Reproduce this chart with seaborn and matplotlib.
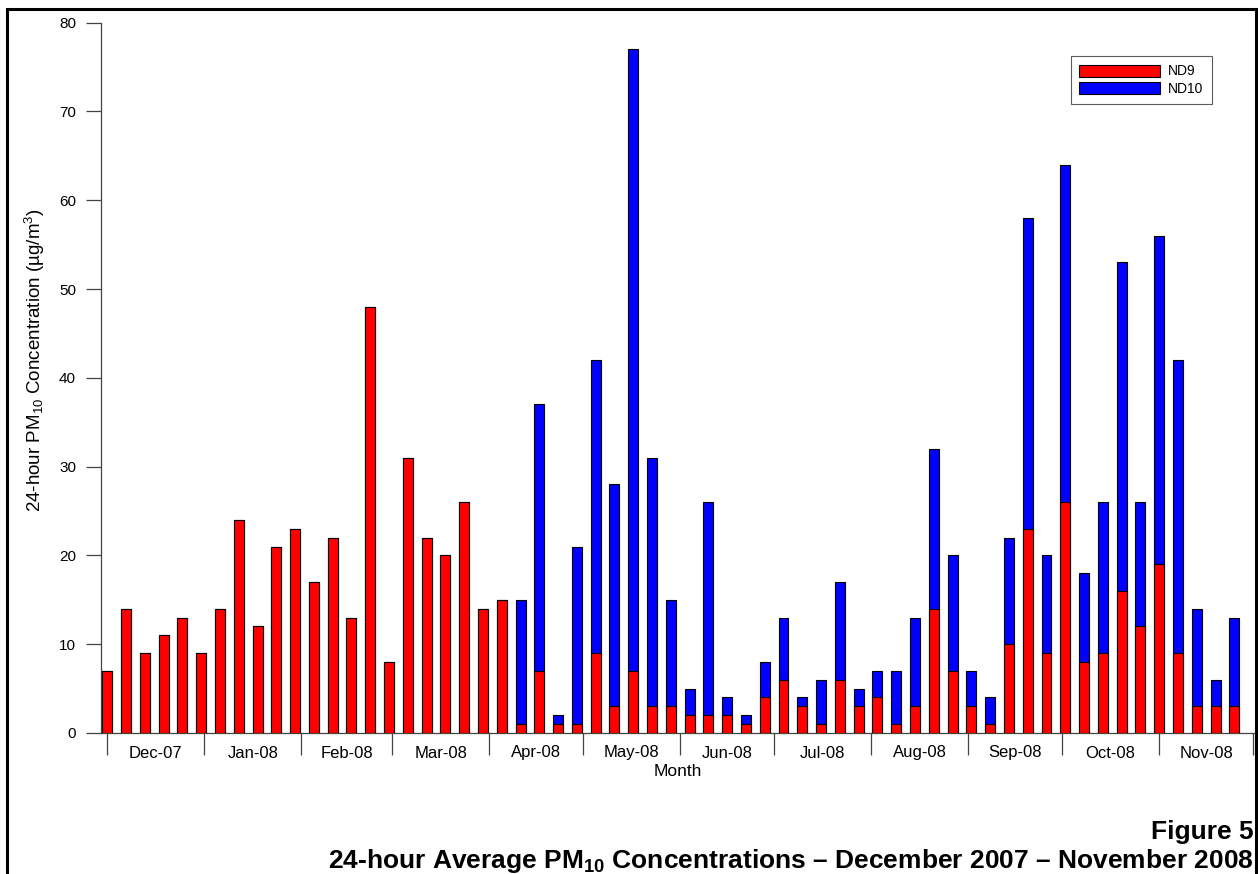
import numpy as np
import pandas as pd
import matplotlib
matplotlib.use("Agg")
import matplotlib.pyplot as plt
from matplotlib.patches import Patch, Rectangle
import seaborn as sns

# ---------------- data ----------------
start_date = "2007-12-01"
sample_step_days = 6
# ND9 (lower, red) and ND10 (upper, blue) segments, one sample every 6 days
nd9 = [7, 14, 9, 11, 13, 9,
       14, 24, 12, 21, 23,
       17, 22, 13, 48, 8,
       31, 22, 20, 26, 14,
       15,
       1, 7, 1, 1,
       9, 3, 7, 3, 3,
       2, 2, 2, 1, 4,
       6, 3, 1, 6, 3,
       4, 1, 3, 14, 7,
       3, 1, 10, 23, 9,
       26, 8, 9, 16, 12,
       19, 9, 3, 3, 3]
nd10 = [0, 0, 0, 0, 0, 0,
        0, 0, 0, 0, 0,
        0, 0, 0, 0, 0,
        0, 0, 0, 0, 0,
        0,
        14, 30, 1, 20,
        33, 25, 70, 28, 12,
        3, 24, 2, 1, 4,
        7, 1, 5, 11, 2,
        3, 6, 10, 18, 13,
        4, 3, 12, 35, 11,
        38, 10, 17, 37, 14,
        37, 33, 11, 3, 10]
month_labels = ["Dec-07", "Jan-08", "Feb-08", "Mar-08", "Apr-08", "May-08",
                "Jun-08", "Jul-08", "Aug-08", "Sep-08", "Oct-08", "Nov-08"]
y_ticks = [0, 10, 20, 30, 40, 50, 60, 70, 80]

# ---------------- frame ----------------
n = len(nd9)
t0 = pd.Timestamp(start_date)
day = np.arange(n) * sample_step_days
df = pd.DataFrame({
    "day": day,
    "ND9": nd9,
    "total": np.array(nd9) + np.array(nd10),
})
month_starts = pd.date_range(t0, periods=len(month_labels) + 1, freq="MS")
bounds = np.array([(m - t0).days for m in month_starts], dtype=float)
centers = (bounds[:-1] + bounds[1:]) / 2

sns.set_style("ticks")
plt.rcParams["font.family"] = ["Liberation Sans", "DejaVu Sans"]
plt.rcParams["mathtext.fontset"] = "custom"
plt.rcParams["mathtext.rm"] = "Liberation Sans"
plt.rcParams["mathtext.it"] = "Liberation Sans:italic"
plt.rcParams["mathtext.bf"] = "Liberation Sans:bold"
plt.rcParams["text.color"] = "black"
plt.rcParams["axes.labelcolor"] = "black"
plt.rcParams["xtick.labelcolor"] = "black"
plt.rcParams["ytick.labelcolor"] = "black"

W, H = 1258, 874
fig = plt.figure(figsize=(W / 100, H / 100), dpi=100)
ax_bottom, ax_top = 733, 22.7
ax = fig.add_axes([101 / W, 1 - ax_bottom / H, (1255 - 101) / W, (ax_bottom - ax_top) / H])

bar_w = 0.53
sns.barplot(data=df, x="day", y="total", native_scale=True, width=bar_w,
            color="#0000FF", saturation=1, edgecolor="black", linewidth=0.8,
            ax=ax, zorder=2)
sns.barplot(data=df, x="day", y="ND9", native_scale=True, width=bar_w,
            color="#FF0000", saturation=1, edgecolor="black", linewidth=0.8,
            ax=ax, zorder=3)

ax.set_xlim(-2.0, 366.6)
ax.set_ylim(0, 80)
ax.set_yticks(y_ticks)
ax.set_yticklabels([str(v) for v in y_ticks], fontsize=11, color="black")
ax.tick_params(axis="y", length=11, width=0.9, color="#444444", pad=7)

ax.set_xticks(bounds)
ax.set_xticklabels([""] * len(bounds))
ax.set_xticks(centers, minor=True)
ax.set_xticklabels(month_labels, minor=True, fontsize=12, color="black")
ax.tick_params(axis="x", which="major", length=16, width=0.9, color="#444444")
ax.tick_params(axis="x", which="minor", length=0, pad=9)

for s in ["top", "right"]:
    ax.spines[s].set_visible(False)
for s in ["left", "bottom"]:
    ax.spines[s].set_color("#444444")
    ax.spines[s].set_linewidth(0.9)

ax.set_xlabel("Month", fontsize=12.5, color="black")
ax.xaxis.set_label_coords(0.5, -(771 - ax_bottom) / (ax_bottom - ax_top), transform=ax.transAxes)
ax.xaxis.label.set_va("center")
ax.set_ylabel("24-hour PM$_{10}$ Concentration (µg/m$^{3}$)", fontsize=13.5, color="black")
ax.yaxis.set_label_coords(-(101 - 35) / (1255 - 101), (ax_bottom - 360) / (ax_bottom - ax_top),
                          transform=ax.transAxes)
ax.yaxis.label.set_va("center")

handles = [Patch(facecolor="#FF0000", edgecolor="black", linewidth=0.8, label="ND9"),
           Patch(facecolor="#0000FF", edgecolor="black", linewidth=0.8, label="ND10")]
leg = ax.legend(handles=handles, loc="upper right", bbox_to_anchor=(1212 / W, 1 - 56 / H),
                bbox_transform=fig.transFigure, borderaxespad=0, fontsize=10,
                handlelength=5.8, handleheight=0.95, handletextpad=0.6,
                labelspacing=0.25, borderpad=0.6, fancybox=False, frameon=True)
leg.get_frame().set_edgecolor("#333333")
leg.get_frame().set_linewidth(0.8)
for t in leg.get_texts():
    t.set_color("black")

fig.text(1254 / W, 1 - 839 / H, "Figure 5", ha="right", va="baseline",
         fontsize=19, fontweight="bold", color="black")
fig.text(1254 / W, 1 - 868 / H,
         "24-hour Average PM$_{\\mathbf{10}}$ Concentrations – December 2007 – November 2008",
         ha="right", va="baseline", fontsize=19, fontweight="bold", color="black")

fig.patches.append(Rectangle((7 / W, -0.05), (1256 - 7) / W, 1.05 - 9 / H,
                             transform=fig.transFigure, fill=False,
                             edgecolor="black", linewidth=2.2, zorder=10))

fig.savefig("out.png", dpi=100)
